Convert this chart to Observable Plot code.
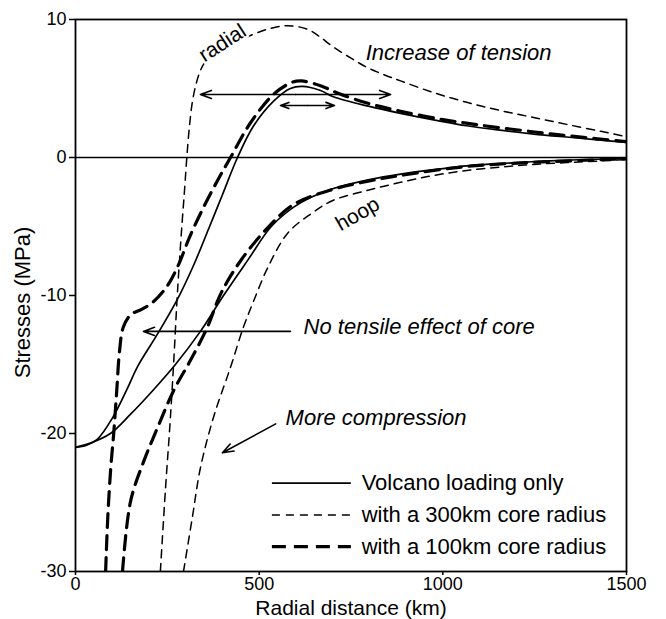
<!DOCTYPE html>
<html>
<head>
<meta charset="utf-8">
<script src="https://cdn.jsdelivr.net/npm/d3@7"></script>
<script src="https://cdn.jsdelivr.net/npm/@observablehq/plot@0.6"></script>
<style>
  html, body { margin: 0; padding: 0; background: white; }
</style>
</head>
<body>
<div id="chart"></div>
<script>
// ---- tick values ----
const xTicks = [0, 500, 1000, 1500];
const yTicks = [-30, -20, -10, 0, 10];

// ---- Volcano loading only ----
const radialLoadX = [0, 30, 60, 100, 140, 170, 223, 277, 320, 362, 400, 441, 485, 540, 585, 618, 667, 702, 800, 885, 1000, 1065, 1150, 1247, 1350, 1500];
const radialLoadY = [-21, -20.85, -20.4, -18.9, -16.8, -15.1, -12.8, -10.3, -7.9, -5.2, -2.7, 0, 2.3, 4.1, 5.0, 5.15, 4.85, 4.4, 3.7, 3.2, 2.6, 2.3, 2.0, 1.7, 1.45, 1.1];
const hoopLoadX = [0, 40, 95, 150, 210, 272, 340, 403, 470, 533, 594, 640, 702, 800, 885, 1000, 1065, 1150, 1247, 1350, 1500];
const hoopLoadY = [-21, -20.7, -20, -18.6, -16.9, -15, -12.6, -10, -7.4, -5, -3.6, -2.9, -2.25, -1.6, -1.2, -0.8, -0.6, -0.45, -0.3, -0.18, -0.07];

// ---- with a 300km core radius ----
const radial300X = [231, 245, 258, 268, 276, 283, 290, 297, 303, 310, 318, 328, 340, 355, 375, 400, 430, 468, 523, 577, 631, 665, 702, 750, 792, 840, 885, 975, 1065, 1157, 1247, 1337, 1430, 1500];
const radial300Y = [-30, -24, -19, -14.5, -10.5, -7.5, -4.8, -2.3, 0, 2.2, 4.0, 5.3, 6.3, 7.0, 7.5, 7.9, 8.3, 8.75, 9.3, 9.55, 9.3, 8.75, 8.0, 7.2, 6.55, 6.0, 5.55, 4.7, 4.0, 3.4, 2.9, 2.4, 1.9, 1.5];
const hoop300X = [294, 318, 340, 376, 422, 457, 485, 523, 577, 640, 702, 792, 885, 975, 1065, 1157, 1247, 1337, 1430, 1500];
const hoop300Y = [-30, -26.1, -22.5, -18.8, -15.2, -12.3, -10.4, -8.0, -5.5, -4.1, -3.1, -2.4, -1.8, -1.3, -0.94, -0.7, -0.5, -0.37, -0.25, -0.15];

// ---- with a 100km core radius ----
const radial100X = [82, 88, 96, 104, 112, 120, 130, 150, 180, 210, 250, 280, 310, 345, 386, 422, 476, 540, 590, 615, 667, 720, 800, 885, 1000, 1100, 1250, 1350, 1500];
const radial100Y = [-30, -26, -22.5, -20, -17, -14, -12.3, -11.4, -11.0, -10.5, -9.3, -7.8, -5.8, -3.8, -1.7, 0, 2.5, 4.6, 5.45, 5.55, 5.2, 4.6, 3.9, 3.35, 2.75, 2.35, 1.85, 1.55, 1.15];
const hoop100X = [128, 150, 186, 223, 267, 313, 359, 395, 449, 523, 594, 702, 800, 885, 1065, 1247, 1500];
const hoop100Y = [-30, -24.9, -22, -19.6, -16.9, -14.7, -12.3, -9.9, -7.5, -5.1, -3.4, -2.3, -1.7, -1.3, -0.65, -0.35, -0.1];

// ---- legend / annotation text ----
const legendLabels = ["Volcano loading only", "with a 300km core radius", "with a 100km core radius"];
const notes = ["Increase of tension", "No tensile effect of core", "More compression"];

// ---- build table ----
function rows(xs, ys, set, comp) { return xs.map((x, i) => ({x, y: ys[i], set, comp})); }
const data = [
  ...rows(radialLoadX, radialLoadY, "load", "radial"),
  ...rows(hoopLoadX, hoopLoadY, "load", "hoop"),
  ...rows(radial300X, radial300Y, "c300", "radial"),
  ...rows(hoop300X, hoop300Y, "c300", "hoop"),
  ...rows(radial100X, radial100Y, "c100", "radial"),
  ...rows(hoop100X, hoop100Y, "c100", "hoop")
];

const styles = {
  load: {strokeWidth: 1.7, strokeDasharray: null},
  c300: {strokeWidth: 1.5, strokeDasharray: "8,6"},
  c100: {strokeWidth: 3.2, strokeDasharray: "14,8"}
};
const setKeys = ["load", "c300", "c100"];

// legend layout (data units)
const legX1 = 536, legX2 = 751, legTextX = 779;
const legY = [-23.6, -25.9, -28.2];

const font = "'Liberation Sans', Arial, Helvetica, sans-serif";

const marks = [
  Plot.ruleY([0], {stroke: "black", strokeWidth: 1.6}),
  ...setKeys.map(k => Plot.line(data.filter(d => d.set === k), {
    x: "x", y: "y", z: "comp", stroke: "black",
    strokeWidth: styles[k].strokeWidth,
    strokeDasharray: styles[k].strokeDasharray,
    curve: "catmull-rom", clip: true
  })),
  // double-headed arrows (increase of tension)
  Plot.arrow([{x1: 599, x2: 340, y: 4.57}, {x1: 599, x2: 858, y: 4.57}], {x1: "x1", x2: "x2", y1: "y", y2: "y", stroke: "black", strokeWidth: 1.6, headLength: 11, headAngle: 40}),
  Plot.arrow([{x1: 631, x2: 558, y: 3.77}, {x1: 631, x2: 705, y: 3.77}], {x1: "x1", x2: "x2", y1: "y", y2: "y", stroke: "black", strokeWidth: 1.6, headLength: 11, headAngle: 40}),
  // single arrows
  Plot.arrow([{x1: 585, y1: -12.6, x2: 185, y2: -12.6}, {x1: 545, y1: -19.3, x2: 400, y2: -21.4}], {x1: "x1", y1: "y1", x2: "x2", y2: "y2", stroke: "black", strokeWidth: 1.6, headLength: 11, headAngle: 40}),
  // annotations
  Plot.text([notes[0]], {x: 790, y: 7.6, text: d => d, textAnchor: "start", fontSize: 22, fontStyle: "italic", fill: "black"}),
  Plot.text([notes[1]], {x: 621, y: -12.25, text: d => d, textAnchor: "start", fontSize: 22, fontStyle: "italic", fill: "black"}),
  Plot.text([notes[2]], {x: 572, y: -18.85, text: d => d, textAnchor: "start", fontSize: 22, fontStyle: "italic", fill: "black"}),
  Plot.text(["radial"], {x: 400, y: 8.3, text: d => d, rotate: -33, fontSize: 21, fill: "black", stroke: "white", strokeWidth: 5}),
  Plot.text(["hoop"], {x: 768, y: -4.1, text: d => d, rotate: -30, fontSize: 21, fill: "black"}),
  // legend
  ...setKeys.map((k, i) => Plot.ruleY([legY[i]], {x1: legX1, x2: legX2, stroke: "black", strokeWidth: styles[k].strokeWidth, strokeDasharray: styles[k].strokeDasharray})),
  Plot.text(legendLabels, {x: legTextX, y: (d, i) => legY[i], text: d => d, textAnchor: "start", fontSize: 22, fill: "black"}),
  // axes
  Plot.axisX(xTicks, {tickSize: 4, tickPadding: 2, fontSize: 18, strokeWidth: 1.5, tickFormat: d => String(d), label: null}),
  Plot.axisY(yTicks, {tickSize: 6, tickPadding: 3, fontSize: 18, strokeWidth: 1.5, tickFormat: d => String(d), label: null}),
  Plot.text(["Radial distance (km)"], {frameAnchor: "bottom", lineAnchor: "middle", textAnchor: "middle", dy: 37, text: d => d, fontSize: 21, fill: "black"}),
  Plot.text(["Stresses (MPa)"], {frameAnchor: "left", lineAnchor: "middle", textAnchor: "middle", dx: -53, dy: 7, rotate: -90, text: d => d, fontSize: 22, fill: "black"}),
  Plot.frame({stroke: "black", strokeWidth: 1.8})
];

const chart = Plot.plot({
  width: 666,
  height: 619,
  marginLeft: 75,
  marginRight: 40,
  marginTop: 19,
  marginBottom: 48,
  x: {domain: [0, 1500]},
  y: {domain: [-30, 10]},
  style: {fontFamily: font, background: "white", color: "black", overflow: "visible"},
  marks
});
document.getElementById("chart").appendChild(chart);
</script>
</body>
</html>
